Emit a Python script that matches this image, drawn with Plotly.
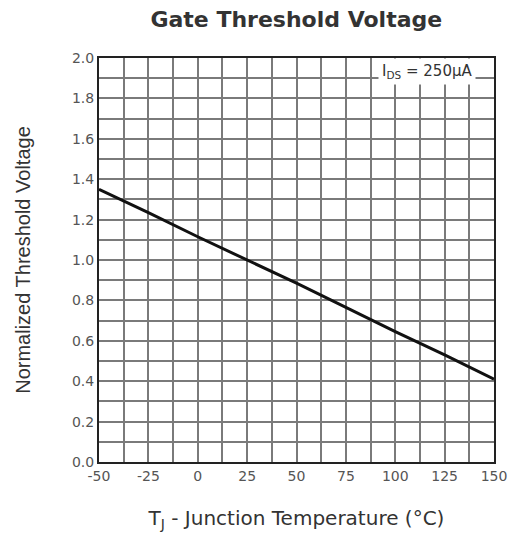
import plotly.graph_objects as go

temps = [-50, -25, 0, 25, 50, 75, 100, 125, 150]
vth_norm = [1.35, 1.235, 1.115, 1.0, 0.885, 0.765, 0.645, 0.53, 0.41]
x_ticks = [-50, -25, 0, 25, 50, 75, 100, 125, 150]
y_ticks = [0.0, 0.2, 0.4, 0.6, 0.8, 1.0, 1.2, 1.4, 1.6, 1.8, 2.0]

font_wide = "DejaVu Sans, Verdana, sans-serif"
font_arial = "Liberation Sans, Arial, sans-serif"
grid_col = "#7a7a7a"

fig = go.Figure()
fig.add_trace(go.Scatter(x=temps, y=vth_norm, mode="lines",
                         line=dict(color="#111111", width=3), showlegend=False))

fig.update_layout(
    width=518, height=533,
    margin=dict(l=99, r=24, t=58, b=71, autoexpand=False),
    paper_bgcolor="white", plot_bgcolor="white",
    font=dict(family=font_wide, color="#333333"),
    title=dict(text="<b>Gate Threshold Voltage</b>", x=0.572, xanchor="center",
               y=0.964, yanchor="middle",
               font=dict(size=22, color="#333333", family=font_wide)),
)

fig.update_xaxes(
    automargin=False,
    range=[-50, 150], tickmode="array", tickvals=x_ticks,
    ticktext=[str(v) for v in x_ticks],
    tickfont=dict(size=14, color="#555555", family=font_wide),
    showgrid=True, gridcolor=grid_col, gridwidth=1.5,
    minor=dict(dtick=12.5, tick0=-50, showgrid=True, gridcolor=grid_col, gridwidth=1.5),
    showline=True, linecolor="#222222", linewidth=2, mirror=True,
    ticks="", zeroline=False,
    title=dict(text="T<sub>J</sub> - Junction Temperature (°C)",
               font=dict(size=20, color="#333333", family=font_wide), standoff=28),
)
fig.update_yaxes(
    automargin=False,
    range=[0, 2.0], tickmode="array", tickvals=y_ticks,
    ticktext=[f"{v:.1f}" for v in y_ticks],
    tickfont=dict(size=14, color="#555555", family=font_wide),
    showgrid=True, gridcolor=grid_col, gridwidth=1.5,
    minor=dict(dtick=0.1, tick0=0, showgrid=True, gridcolor=grid_col, gridwidth=1.5),
    showline=True, linecolor="#222222", linewidth=2, mirror=True,
    ticks="", zeroline=False,
    title=dict(text="Normalized Threshold Voltage",
               font=dict(size=20, color="#333333", family=font_arial), standoff=36),
)

fig.add_annotation(x=116, y=1.935, xref="x", yref="y",
                   text="I<sub>DS</sub> = 250μA", showarrow=False,
                   font=dict(size=15, color="#333333", family=font_wide),
                   bgcolor="white", borderpad=3)

fig.write_html("out.html")
